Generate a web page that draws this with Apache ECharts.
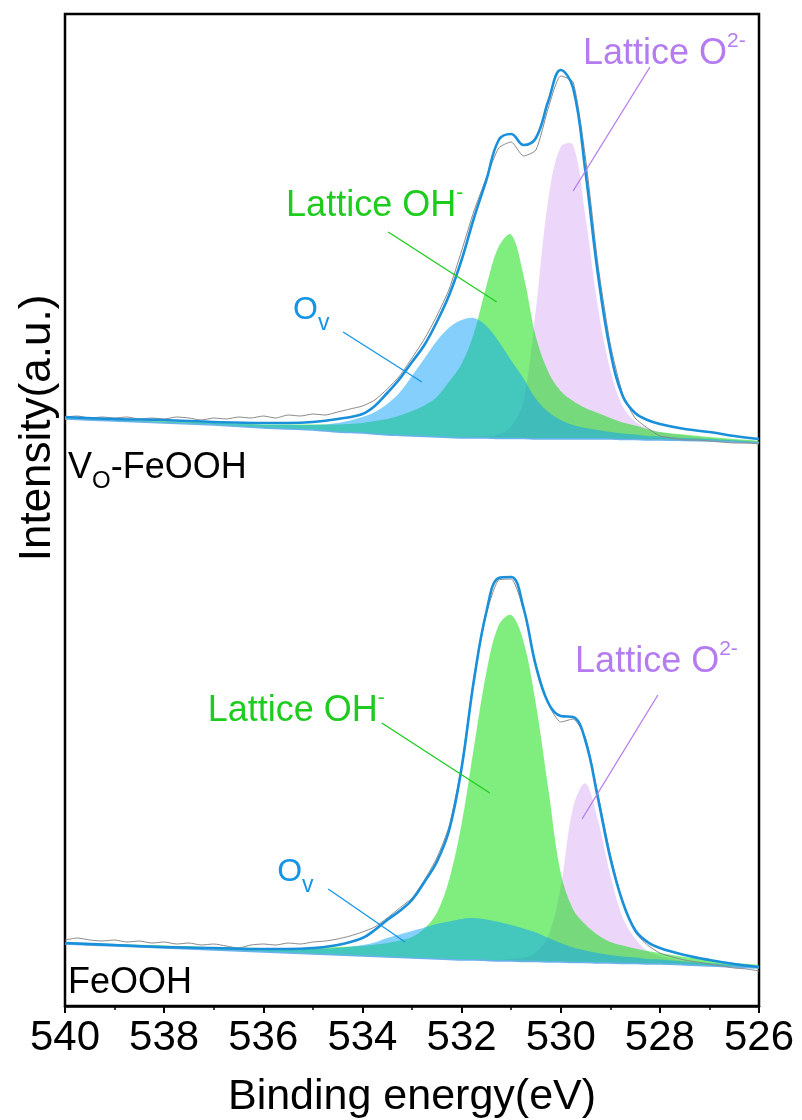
<!DOCTYPE html>
<html>
<head>
<meta charset="utf-8">
<title>O 1s XPS</title>
<script src="https://cdn.jsdelivr.net/npm/echarts@6/dist/echarts.min.js"></script>
<style>
html, body { margin: 0; padding: 0; background: #fff; }
#chart { width: 802px; height: 1120px; }
</style>
</head>
<body>
<div id="chart"></div>
<script>
var FONT = '"Liberation Sans", Arial, Helvetica, sans-serif';

// binding energy grid used by the fitted curves (eV)
var energy = [540, 539, 538, 537, 536, 535.5, 535, 534.5, 534, 533.75, 533.5, 533.25, 533, 532.75, 532.5, 532.25, 532,
    531.75, 531.5, 531.25, 531, 530.75, 530.5, 530.25, 530, 529.75, 529.5, 529.25, 529, 528.75, 528.5, 528.25, 528,
    527.5, 527, 526.5, 526];
// binding energy grid of the measured spectra (eV)
var rawEnergy = [540, 539.75, 539.5, 539.25, 539, 538.75, 538.5, 538.25, 538, 537.75, 537.5, 537.25, 537, 536.75,
    536.5, 536.25, 536, 535.75, 535.5, 535.25, 535, 534.75, 534.5, 534.25, 534, 533.75, 533.5, 533.25, 533, 532.75,
    532.5, 532.25, 532, 531.75, 531.5, 531.25, 531, 530.75, 530.5, 530.25, 530, 529.75, 529.5, 529.25, 529, 528.75,
    528.5, 528.25, 528, 527.75, 527.5, 527.25, 527, 526.75, 526.5, 526.25, 526];

// ---- V_O-FeOOH (upper, offset) ----
var voBackground = [587, 585, 583, 581, 578, 577, 576, 574, 573, 572, 571, 570.5, 570, 569.5, 569, 568.5, 568, 568, 568,
    567.5, 567.5, 567.5, 567, 567, 567, 567, 567, 567, 567, 566.5, 566.5, 566, 566, 565.5, 565, 564, 563];
var voFit = [589, 587, 586, 584, 583, 583, 584, 587, 592, 600, 613, 627, 644, 661, 684, 711, 746, 788, 826, 866, 872,
    861, 868, 905, 936, 918, 834, 732, 655, 610, 593, 586, 582, 577, 574, 570, 567];
var voRaw = [589, 590, 588, 589, 588, 589, 587, 588, 587, 589, 588, 586, 588, 587, 589, 588, 590, 588, 591, 590, 592,
    591, 594, 597, 600, 606, 617, 630, 648, 667, 690, 717, 755, 795, 828, 858, 864, 850, 856, 898, 930, 924, 848, 742,
    662, 612, 588, 578, 570, 568, 566, 566, 565, 564, 563, 563, 562];
// peak heights above the background
var voOv = [0.5, 1, 1, 2, 3, 4, 5, 9, 16, 22, 31, 43, 60, 78, 96, 110, 118, 120, 112, 97, 78, 60, 40, 27, 19, 14, 11, 9,
    7, 6, 5, 4, 3.5, 2.5, 2, 1.5, 1];
var voOH = [1, 1.5, 2, 2.5, 3.5, 4.5, 5.5, 7.5, 10, 13, 16, 20, 25, 31, 40, 56, 74, 105, 152, 192, 204, 163, 102, 67, 48,
    38, 31, 26, 21, 17, 14, 11, 8, 6, 4, 3, 2];
var voO2 = [0, 0, 0, 0, 0, 0, 0, 0, 0, 0, 0, 0, 0, 0, 0, 0.5, 1, 1.5, 2, 4, 12, 38, 130, 240, 292, 294, 222, 132, 69, 33,
    18, 12, 8, 5, 3, 2, 1.5];

// ---- FeOOH (lower) ----
var feBackground = [62, 60, 58, 56, 54, 53, 52, 51, 50, 49.5, 49, 48.5, 48, 47.5, 47, 46.5, 46, 46, 45.5, 45, 45, 44.5,
    44.5, 44, 44, 43.5, 43.5, 43, 43, 42.5, 42.5, 42, 42, 41, 40, 39, 38];
var feFit = [63, 61, 59, 58, 57, 57, 58, 61, 68, 76, 86, 95, 106, 124, 144, 176, 238, 326, 394, 428, 429, 398, 340, 303,
    290, 289, 265, 208, 148, 104, 76, 64, 58, 51, 46, 42, 39];
var feRaw = [66, 68, 66, 65, 66, 64, 65, 63, 64, 62, 63, 61, 62, 60, 58, 61, 62, 61, 63, 62, 64, 65, 67, 70, 74, 79, 88,
    98, 108, 126, 148, 180, 240, 328, 392, 426, 427, 396, 342, 302, 284, 287, 268, 212, 152, 104, 74, 61, 53, 49, 46,
    44, 42, 40, 38, 37, 35];
var feOv = [0.5, 1, 1.5, 2, 3, 4, 5, 7, 11, 14, 19, 23, 27, 31, 35, 38, 41, 42, 41, 39, 36, 33, 29, 24, 19, 15, 12, 10, 8,
    7, 6, 5, 4.5, 3.5, 3, 2, 1.5];
var feOH = [1.5, 2, 2.5, 3, 4, 5, 6, 8, 10, 12, 14, 17, 21, 30, 46, 80, 136, 213, 288, 336, 346, 320, 257, 173, 89, 53,
    38, 28, 21, 18, 15, 13, 11, 8, 6, 4, 3];
var feO2 = [0, 0, 0, 0, 0, 0, 0, 0, 0, 0, 0, 0, 0, 0, 0, 0, 0, 0, 0.5, 1, 2, 4, 9, 26, 75, 155, 179, 143, 88, 46, 25, 13,
    8, 4, 2.5, 1.5, 1];

var cOv = '#1495E6', cOH = '#1ECC1E', cO2 = '#B47CF0';
var fillOv = 'rgba(10,160,250,0.5)', fillOH = 'rgba(0,221,0,0.5)', fillO2 = 'rgba(221,181,245,0.55)';

function pairs(xs, ys) {
    return xs.map(function (x, i) { return [x, ys[i]]; });
}

// component peak filled between background and background + peak
function peakBand(name, base, height, fill) {
    var rows = energy.map(function (x, i) { return [x, base[i], base[i] + height[i]]; });
    return {
        name: name,
        type: 'custom',
        silent: true,
        clip: true,
        data: rows,
        encode: { x: 0, y: [1, 2] },
        renderItem: function (params, api) {
            if (params.dataIndex !== 0) return null;
            var top = [], bot = [];
            rows.forEach(function (r) {
                top.push(api.coord([r[0], r[2]]));
                bot.push(api.coord([r[0], r[1]]));
            });
            return {
                type: 'polygon',
                shape: { points: top.concat(bot.reverse()), smooth: 0.35 },
                style: { fill: fill }
            };
        }
    };
}

function line(name, xs, ys, color, width, smooth) {
    return {
        name: name,
        type: 'line',
        data: pairs(xs, ys),
        smooth: smooth,
        showSymbol: false,
        silent: true,
        lineStyle: { color: color, width: width }
    };
}

function supLabel(color) {
    return {
        show: true, position: 'right', distance: 0,
        rich: {
            m: { fontSize: 36, lineHeight: 46, color: color, fontFamily: FONT },
            u: { fontSize: 21, lineHeight: 36, verticalAlign: 'top', color: color, fontFamily: FONT }
        }
    };
}
function subLabel(color, size, subSize) {
    return {
        show: true, position: 'right', distance: 0,
        rich: {
            m: { fontSize: size, lineHeight: 50, color: color, fontFamily: FONT },
            d: { fontSize: subSize, lineHeight: subSize, verticalAlign: 'bottom', color: color, fontFamily: FONT }
        }
    };
}

// text annotations: [eV, intensity, text, label style]
var voLabels = [
    [529.55, 952, '{m|Lattice O}{u|2-}', supLabel(cO2)],
    [535.54, 800, '{m|Lattice OH}{u|-}', supLabel(cOH)],
    [535.40, 696, '{m|O}{d|v}', subLabel(cOv, 32, 23)],
    [539.94, 538, '{m|V}{d|O}{m|-FeOOH}', subLabel('#000', 36, 24)]
];
var feLabels = [
    [529.71, 344, '{m|Lattice O}{u|2-}', supLabel(cO2)],
    [537.12, 295, '{m|Lattice OH}{u|-}', supLabel(cOH)],
    [535.72, 134, '{m|O}{d|v}', subLabel(cOv, 32, 23)],
    [539.94, 23, '{m|FeOOH}', subLabel('#000', 36, 24)]
];
// leader lines: [eV1, y1, eV2, y2, color]
var voLeaders = [
    [534.39, 674, 532.80, 624, cOv],
    [533.48, 774, 531.29, 704, cOH],
    [528.20, 939, 529.75, 815, cO2]
];
var feLeaders = [
    [533.61, 283, 531.43, 213, cOH],
    [528.04, 311, 529.57, 187, cO2],
    [534.69, 117, 533.14, 64, cOv]
];

function marks(labels, leaders) {
    return {
        markPoint: {
            symbol: 'circle', symbolSize: 0, silent: true, animation: false,
            data: labels.map(function (l) {
                var lab = Object.assign({}, l[3], { formatter: l[2] });
                return { coord: [l[0], l[1]], label: lab };
            })
        },
        markLine: {
            symbol: ['none', 'none'], silent: true, animation: false,
            label: { show: false },
            data: leaders.map(function (d) {
                return [
                    { coord: [d[0], d[1]], lineStyle: { color: d[4], width: 1.3, type: 'solid' } },
                    { coord: [d[2], d[3]] }
                ];
            })
        }
    };
}

var voEnvelope = Object.assign(line('V_O-FeOOH fit', energy, voFit, '#1A8FDA', 2.6, 0.4), marks(voLabels, voLeaders));
var feEnvelope = Object.assign(line('FeOOH fit', energy, feFit, '#1A8FDA', 2.6, 0.4), marks(feLabels, feLeaders));

var chart = echarts.init(document.getElementById('chart'), null, { renderer: 'canvas' });
chart.setOption({
    animation: false,
    backgroundColor: '#fff',
    textStyle: { fontFamily: FONT },
    grid: {
        left: 65, right: 43, top: 14, bottom: 114,
        outerBoundsMode: 'none',
        show: true, borderColor: '#000', borderWidth: 2.5, backgroundColor: 'transparent'
    },
    xAxis: {
        type: 'value', inverse: true, min: 526, max: 540, interval: 2,
        name: 'Binding energy(eV)', nameLocation: 'middle', nameGap: 70,
        nameTextStyle: { fontSize: 43, color: '#000', fontFamily: FONT },
        axisLine: { show: true, onZero: false, lineStyle: { color: '#000', width: 2.5 } },
        axisTick: { show: true, inside: false, length: 7, lineStyle: { color: '#000', width: 2 } },
        minorTick: { show: true, splitNumber: 2, length: 4, lineStyle: { color: '#000', width: 1.5 } },
        axisLabel: { fontSize: 42, color: '#000', margin: 11, fontFamily: FONT },
        splitLine: { show: false },
        minorSplitLine: { show: false }
    },
    yAxis: {
        type: 'value', min: 0, max: 992,
        axisLine: { show: false }, axisTick: { show: false },
        axisLabel: { show: false }, splitLine: { show: false }
    },
    graphic: [{
        type: 'text', x: 60, y: 428, rotation: Math.PI / 2, silent: true,
        style: {
            text: 'Intensity(a.u.)', fontSize: 44, fontFamily: FONT, fill: '#000',
            align: 'center', verticalAlign: 'bottom'
        }
    }],
    series: [
        peakBand('V_O-FeOOH Lattice O2-', voBackground, voO2, fillO2),
        peakBand('V_O-FeOOH Lattice OH-', voBackground, voOH, fillOH),
        peakBand('V_O-FeOOH Ov', voBackground, voOv, fillOv),
        peakBand('FeOOH Lattice O2-', feBackground, feO2, fillO2),
        peakBand('FeOOH Lattice OH-', feBackground, feOH, fillOH),
        peakBand('FeOOH Ov', feBackground, feOv, fillOv),
        line('V_O-FeOOH background', energy, voBackground, '#6AB2EC', 1.5, 0.3),
        line('FeOOH background', energy, feBackground, '#6AB2EC', 1.5, 0.3),
        line('V_O-FeOOH raw', rawEnergy, voRaw, '#8A8A8A', 1, 0.2),
        line('FeOOH raw', rawEnergy, feRaw, '#8A8A8A', 1, 0.2),
        voEnvelope,
        feEnvelope
    ]
});
</script>
</body>
</html>
